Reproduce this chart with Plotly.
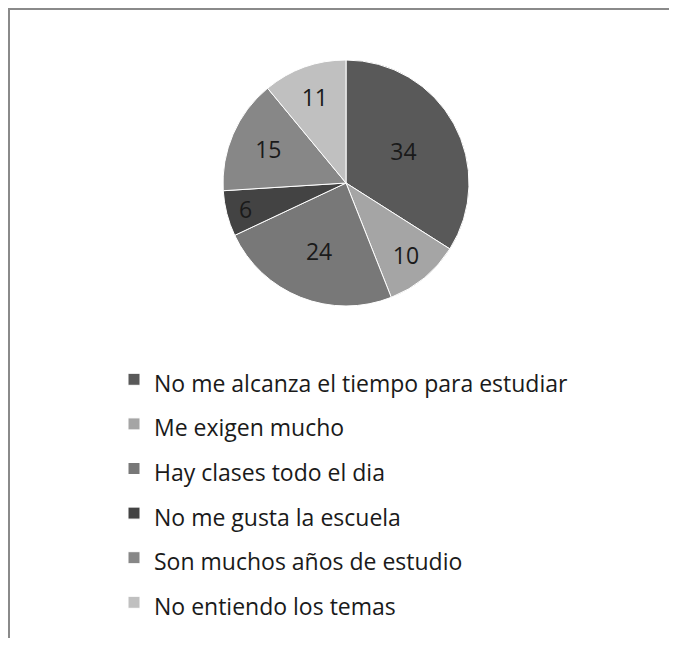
import plotly.graph_objects as go

# razones (etiquetas) y cantidades
razones = [
    "No me alcanza el tiempo para estudiar",
    "Me exigen mucho",
    "Hay clases todo el dia",
    "No me gusta la escuela",
    "Son muchos años de estudio",
    "No entiendo los temas",
]
cantidades = [34, 10, 24, 6, 15, 11]
colores = ["#595959", "#a5a5a5", "#787878", "#434343", "#878787", "#c0c0c0"]

# page body adds 8px around the figure; keep it small enough to avoid scrollbars
W, H = 661, 630

# the span keeps the text small while the legend font sets the row height
etiquetas = ["<span style='font-size:23px'>%s</span>" % r for r in razones]

fig = go.Figure(go.Pie(
    labels=etiquetas,
    values=cantidades,
    sort=False,
    direction="clockwise",
    rotation=0,
    marker=dict(colors=colores, line=dict(color="white", width=1)),
    textinfo="value",
    textposition="inside",
    insidetextorientation="horizontal",
    textfont=dict(size=23, color="#1a1a1a", family="Open Sans"),
    domain=dict(x=[215 / W, 461 / W], y=[1 - 298 / H, 1 - 52 / H]),
    hoverinfo="label+value",
))

# marco gris: solo borde superior e izquierdo quedan dentro de la imagen
fig.add_shape(type="line", xref="paper", yref="paper",
              x0=0, x1=1, y0=1 - 1 / H, y1=1 - 1 / H,
              line=dict(color="#8a8a8a", width=2))
fig.add_shape(type="line", xref="paper", yref="paper",
              x0=1 / W, x1=1 / W, y0=0, y1=1,
              line=dict(color="#8a8a8a", width=2))

fig.update_layout(
    width=W, height=H,
    margin=dict(l=0, r=0, t=0, b=0),
    paper_bgcolor="white",
    font=dict(family="Open Sans", color="#1a1a1a"),
    showlegend=True,
    legend=dict(x=106 / W, xanchor="left", y=1 - 344 / H, yanchor="top",
                font=dict(size=32, family="Open Sans", color="#1a1a1a"),
                bgcolor="rgba(0,0,0,0)"),
)

fig.write_html("out.html")
